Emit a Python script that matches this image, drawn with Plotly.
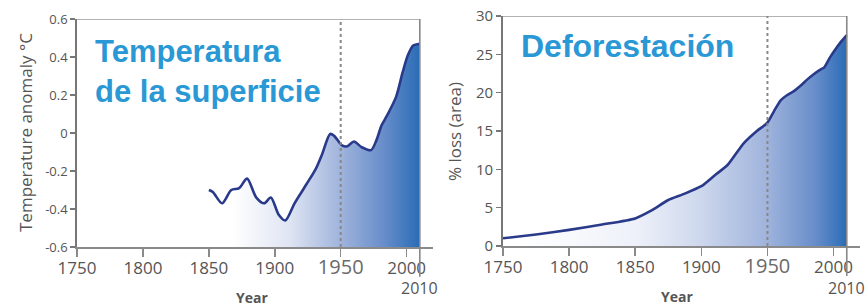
import plotly.graph_objects as go

# ---- Data ----
temp_years = [1850, 1853, 1860, 1867, 1873, 1879, 1886, 1892, 1897, 1903, 1908, 1915,
              1924, 1931, 1936, 1942, 1945, 1951, 1955, 1960, 1966, 1973, 1977, 1981,
              1985, 1992, 1997, 2001, 2005, 2010]
temp_anom = [-0.30, -0.31, -0.37, -0.30, -0.29, -0.24, -0.34, -0.37, -0.34, -0.43, -0.46, -0.37,
             -0.27, -0.19, -0.11, -0.005, -0.015, -0.065, -0.07, -0.045, -0.075, -0.09, -0.04, 0.04,
             0.09, 0.19, 0.32, 0.41, 0.46, 0.47]

def_years = [1750, 1775, 1800, 1825, 1850, 1862, 1875, 1887, 1900, 1910, 1920, 1932, 1942,
             1950, 1955, 1960, 1965, 1970, 1975, 1980, 1985, 1990, 1993, 1997, 2000, 2005, 2010]
def_loss = [1.0, 1.5, 2.1, 2.8, 3.6, 4.6, 6.0, 6.8, 7.8, 9.2, 10.6, 13.4, 15.0,
            16.1, 17.6, 19.0, 19.7, 20.2, 20.9, 21.7, 22.4, 23.0, 23.3, 24.5, 25.3, 26.5, 27.5]

year_ticks = [1750, 1800, 1850, 1900, 1950, 2000]
temp_ticks = [-0.6, -0.4, -0.2, 0, 0.2, 0.4, 0.6]
temp_tick_text = ["-0.6", "-0.4", "-0.2", "0", "0.2", "0.4", "0.6"]
loss_ticks = [0, 5, 10, 15, 20, 25, 30]

TEMP_MIN, TEMP_MAX = -0.6, 0.6
LOSS_MIN, LOSS_MAX = 0, 30
YEAR_START, YEAR_END, MARK_YEAR = 1750, 2010, 1950

title_left = "Temperatura<br>de la superficie"
title_right = "Deforestación"

# ---- Styles ----
LINE_COLOR = "#2a3a8a"
AXIS_COLOR = "#8a8a8a"
TICK_FONT = "Open Sans, Liberation Sans, sans-serif"
TITLE_BLUE = "#2b98d6"

def year_text(y):
    if y == MARK_YEAR:
        return '<span style="font-size:20px;fill:#6a6a6a">%d</span>' % y
    return str(y)

fig = go.Figure()

# Left panel: baseline + filled temperature curve
fig.add_trace(go.Scatter(x=temp_years, y=[TEMP_MIN] * len(temp_years), mode="lines",
                         line=dict(width=0), hoverinfo="skip", showlegend=False,
                         xaxis="x", yaxis="y"))
fig.add_trace(go.Scatter(
    x=temp_years, y=temp_anom, mode="lines", line=dict(color=LINE_COLOR, width=2.6, shape="spline", smoothing=0.8),
    fill="tonexty",
    fillgradient=dict(type="horizontal", start=1868, stop=2010,
                      colorscale=[[0, "rgba(255,255,255,1)"], [0.3, "#dfe5f3"], [0.58, "#9fb3dc"],
                                  [0.8, "#6a8fcb"], [1, "#2a6cb6"]]),
    showlegend=False, xaxis="x", yaxis="y"))

# Right panel: filled deforestation curve
fig.add_trace(go.Scatter(
    x=def_years, y=def_loss, mode="lines", line=dict(color=LINE_COLOR, width=2.6, shape="spline", smoothing=0.6),
    fill="tozeroy",
    fillgradient=dict(type="horizontal", start=1760, stop=2010,
                      colorscale=[[0, "rgba(255,255,255,1)"], [0.36, "#eef1f9"], [0.56, "#cdd7ed"],
                                  [0.76, "#9fb3dc"], [0.9, "#6a8fcb"], [1, "#2a6cb6"]]),
    showlegend=False, xaxis="x2", yaxis="y2"))

W, H = 865, 304
common_x = dict(range=[YEAR_START, 2020], tickvals=year_ticks, ticktext=[year_text(y) for y in year_ticks],
                showline=True, linecolor=AXIS_COLOR, linewidth=1.6, ticks="outside", ticklen=8,
                tickwidth=1.5, tickcolor=AXIS_COLOR, showgrid=False, zeroline=False, automargin=False,
                ticklabelstandoff=-3,
                tickfont=dict(family=TICK_FONT, size=17, color="#555"), fixedrange=True)
common_y = dict(showline=True, linecolor="#777", linewidth=1.8, ticks="outside", ticklen=5,
                tickwidth=1.5, tickcolor="#777", showgrid=False, zeroline=False, automargin=False,
                fixedrange=True)

fig.update_layout(
    template="none",
    width=W, height=H, autosize=False, margin=dict(l=0, r=0, t=0, b=0, pad=0),
    paper_bgcolor="white", plot_bgcolor="rgba(0,0,0,0)",
    xaxis=dict(domain=[77 / W, 433 / W], anchor="y", **common_x),
    yaxis=dict(domain=[(H - 247) / H, (H - 19) / H], range=[TEMP_MIN, TEMP_MAX], anchor="x",
               tickvals=temp_ticks, ticktext=temp_tick_text,
               tickfont=dict(family=TICK_FONT, size=13, color="#555"), **common_y),
    xaxis2=dict(domain=[503 / W, 860 / W], anchor="y2", **common_x),
    yaxis2=dict(domain=[(H - 246) / H, (H - 16) / H], range=[LOSS_MIN, LOSS_MAX], anchor="x2",
                tickvals=loss_ticks,
                tickfont=dict(family=TICK_FONT, size=15, color="#555"), **common_y),
)

shapes = []
for xr, yr, ymin, ymax in [("x", "y", TEMP_MIN, TEMP_MAX), ("x2", "y2", LOSS_MIN, LOSS_MAX)]:
    # top border
    shapes.append(dict(type="line", xref=xr, yref=yr, x0=YEAR_START, x1=YEAR_END, y0=ymax, y1=ymax,
                       line=dict(color="#999", width=1.5)))
    # right border at 2010 extending below axis
    shapes.append(dict(type="line", xref=xr, yref=yr + " domain", x0=YEAR_END, x1=YEAR_END, y0=-0.13, y1=1,
                       line=dict(color="#888", width=1.6)))
    # 1950 dashed marker
    shapes.append(dict(type="line", xref=xr, yref=yr, x0=MARK_YEAR, x1=MARK_YEAR, y0=ymin, y1=ymax,
                       line=dict(color="#888", width=2, dash="3px,3px")))
fig.update_layout(shapes=shapes)

def ann(text, x, y, size, xref="paper", angle=0, color="#555", family=TICK_FONT, **kw):
    d = dict(text=text, xref=xref, yref="paper", x=x, y=y, xanchor="center", yanchor="middle",
             textangle=angle, showarrow=False, font=dict(family=family, size=size, color=color))
    d.update(kw)
    return d

annotations = [
    dict(text=title_left, xref="paper", yref="paper", x=93 / W, y=1 - 32 / H, xanchor="left", yanchor="top",
         align="left", showarrow=False,
         font=dict(family="Liberation Sans, Arial, sans-serif", size=31, color=TITLE_BLUE, weight="bold")),
    dict(text=title_right, xref="paper", yref="paper", x=519 / W, y=1 - 26 / H, xanchor="left", yanchor="top",
         align="left", showarrow=False,
         font=dict(family="Liberation Sans, Arial, sans-serif", size=32, color=TITLE_BLUE, weight="bold")),
    ann("Temperature anomaly °C", 25 / W, 1 - 133 / H, 17, angle=-90),
    ann("% loss (area)", 454 / W, 1 - 131 / H, 17, angle=-90),
    ann("<b>Year</b>", 252 / W, 1 - 297 / H, 14),
    ann("<b>Year</b>", 677 / W, 1 - 296 / H, 14),
    ann(str(YEAR_END), YEAR_END, 1 - 288 / H, 16, xref="x"),
    ann(str(YEAR_END), YEAR_END, 1 - 288 / H, 16, xref="x2"),
]
fig.update_layout(annotations=annotations)

fig.write_html("out.html", config={"displayModeBar": False, "staticPlot": True},
               post_script="document.body.style.margin='0px';document.body.style.overflow='hidden';")
